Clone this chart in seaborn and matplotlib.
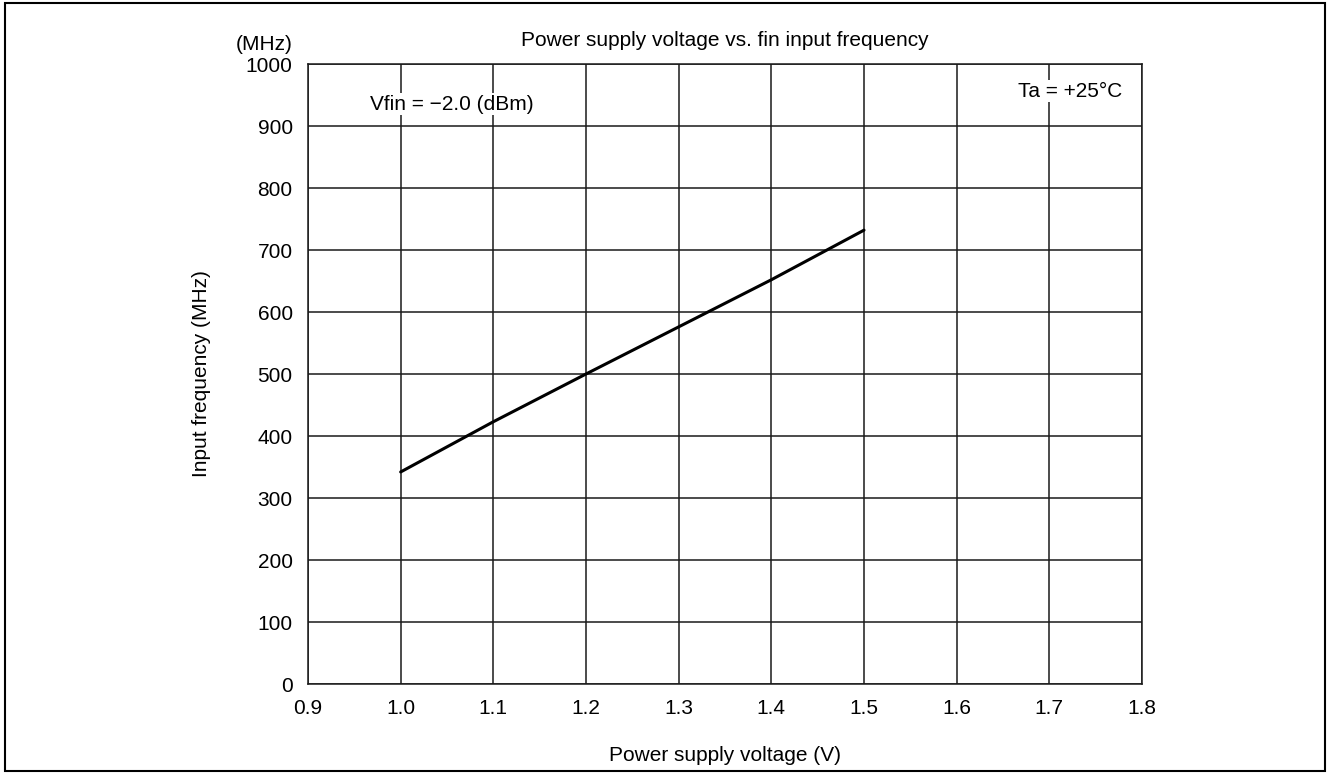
import matplotlib
matplotlib.use("Agg")
import matplotlib.pyplot as plt
import numpy as np
import pandas as pd
import seaborn as sns
from matplotlib.patches import Rectangle

# values
voltage = [1.0, 1.1, 1.2, 1.3, 1.4, 1.5]
freq_mhz = [342, 423, 500, 576, 652, 732]

x_ticks = [0.9, 1.0, 1.1, 1.2, 1.3, 1.4, 1.5, 1.6, 1.7, 1.8]
y_ticks = [0, 100, 200, 300, 400, 500, 600, 700, 800, 900, 1000]

sns.set_style("white")
plt.rcParams['font.family'] = ['Liberation Sans', 'DejaVu Sans']
plt.rcParams['text.color'] = 'black'
plt.rcParams['axes.labelcolor'] = 'black'
fs = 15

df = pd.DataFrame({"V": voltage, "f": freq_mhz})

fig = plt.figure(figsize=(13.28, 7.74), dpi=100)
ax = fig.add_axes([308 / 1328, 1 - 684 / 774, (1142 - 308) / 1328, (684 - 64) / 774])

sns.lineplot(data=df, x="V", y="f", ax=ax, color="black", linewidth=2.2, zorder=3)

ax.set_xlim(0.9, 1.8)
ax.set_ylim(0, 1000)
ax.set_xticks(x_ticks)
ax.set_yticks(y_ticks)
ax.set_xticklabels([f"{v:.1f}" for v in x_ticks])
ax.set_yticklabels([str(v) for v in y_ticks])
ax.tick_params(length=0, pad=11, labelsize=fs, colors="black")
ax.grid(True, color="#1a1a1a", linewidth=1.1)
for s in ax.spines.values():
    s.set_color("#1a1a1a")
    s.set_linewidth(1.1)

ax.set_xlabel("Power supply voltage (V)", fontsize=fs, labelpad=20)
ax.set_ylabel("Input frequency (MHz)", fontsize=fs, labelpad=25)
ax.set_title("Power supply voltage vs. fin input frequency", fontsize=fs, pad=13, color="black")

ax.text(-0.019, 1.032, "(MHz)", transform=ax.transAxes, ha="right", va="center", fontsize=fs)

ax.text(1.055, 935, "Vfin = \u22122.0 (dBm)", ha="center", va="center", fontsize=fs,
        bbox=dict(facecolor="white", edgecolor="none", pad=1), zorder=4)
ax.text(1.7786, 956, "Ta = +25\u00b0C", ha="right", va="center", fontsize=fs,
        bbox=dict(facecolor="white", edgecolor="none", pad=1), zorder=4)

# outer frame
fig.patches.append(Rectangle((5 / 1328, 3 / 774), 1320 / 1328, 768 / 774, transform=fig.transFigure,
                             fill=False, edgecolor="black", linewidth=1.5))

fig.savefig("out.png", dpi=100)
